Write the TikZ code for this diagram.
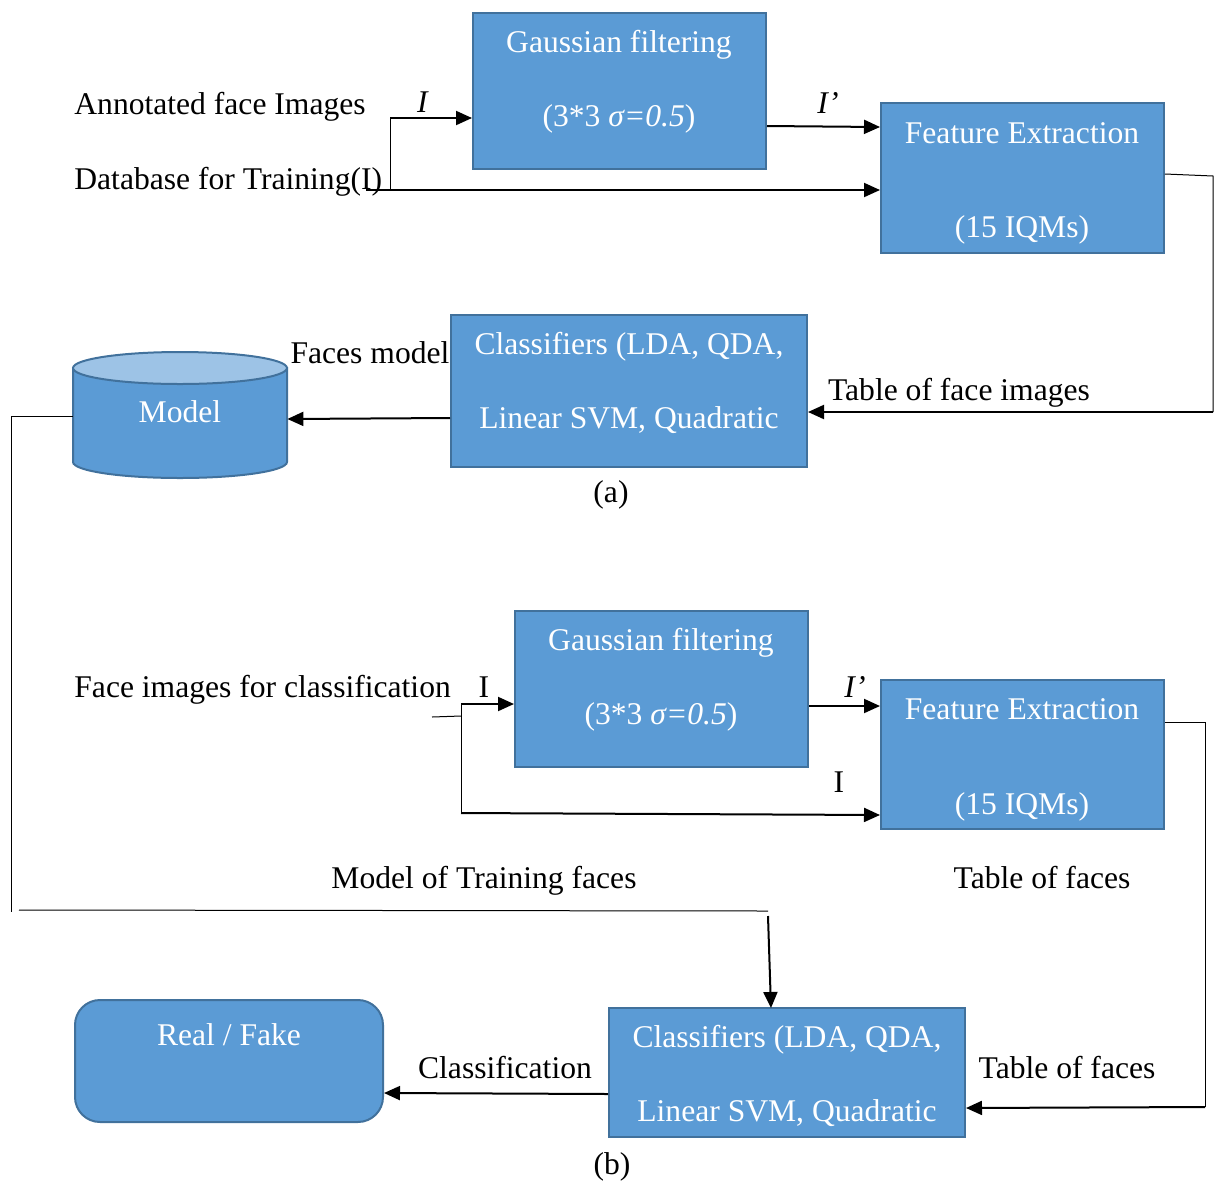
\documentclass[tikz,border=0pt]{standalone}
\usepackage{fontspec}
\setmainfont{Liberation Serif}
\usetikzlibrary{arrows.meta}
\definecolor{boxfill}{HTML}{5B9BD5}
\definecolor{boxline}{HTML}{41719C}
\definecolor{cyltop}{HTML}{9DC3E6}
\newcommand\dfsz{\fontsize{15.8}{19}\selectfont}
\begin{document}
\begin{tikzpicture}[x=0.5pt,y=-0.5pt,
 blk/.style={draw=boxline,line width=1pt,fill=boxfill,inner sep=0pt},
 wtxt/.style={text=white,font=\dfsz,inner sep=0pt,text height=0.9em,text depth=0pt},
 btxt/.style={text=black,font=\dfsz,inner sep=0pt,text height=0.9em,text depth=0pt},
 arr/.style={line width=1pt,-{Triangle[length=8pt,width=7pt]}},
 wire/.style={line width=0.5pt}]
\useasboundingbox (0,0) rectangle (1217,1180);

% ---------- (a) ----------
\node[blk,minimum width=146.5pt,minimum height=78pt] (gf1) at (619.5,91) {};
\node[wtxt] (gf1a) at (619,43) {Gaussian filtering};
\node[wtxt] (gf1b) at (619,117) {(3*3 \textit{σ=0.5})};

\node[blk,minimum width=141.5pt,minimum height=75pt] (fe1) at (1022.5,178) {};
\node[wtxt] (fe1a) at (1022,134) {Feature Extraction};
\node[wtxt] (fe1b) at (1022,228) {(15 IQMs)};

\node[blk,minimum width=178pt,minimum height=76pt] (cl1) at (629,391) {};
\node[wtxt] (cl1a) at (629,345) {Classifiers (LDA, QDA,};
\node[wtxt] (cl1b) at (629,419) {Linear SVM, Quadratic};

% cylinder
\node[minimum width=107pt,minimum height=63pt,inner sep=0pt] (model) at (180,415) {};
\draw[draw=boxline,line width=1pt,fill=boxfill] (73,368) -- (73,462)
  arc[start angle=180,end angle=360,x radius=53.5pt,y radius=8pt] -- (287,368) -- cycle;
\draw[draw=boxline,line width=1pt,fill=cyltop] (180,368) ellipse [x radius=53.5pt,y radius=8pt];
\node[wtxt] (modeltxt) at (180,413) {Model};

\node[btxt,anchor=west] (lab1) at (74,105) {Annotated face Images};
\node[btxt,anchor=west] (lab2) at (74,180) {Database for Training(I)};
\node[btxt] (li1) at (423,103) {\textit{I}};
\node[btxt] (lip1) at (828,104) {\textit{I’}};
\node[btxt] (lfm) at (370,354) {Faces model};
\node[btxt] (ltfi) at (959,391) {Table of face images};
\node[btxt] (la) at (611,493) {(a)};

\coordinate (a1) at (390,118);
\coordinate (a2) at (390,190);
\coordinate (d0) at (366,190);
\draw[wire] (a1) -- (a2);
\draw[arr] (a1) -- (gf1.west |- a1);
\draw[arr] (d0) -- (fe1.west |- d0);
\draw[arr] (gf1.east |- 0,126) -- (fe1.west |- 0,127);
\coordinate (c1) at (1213,176);
\coordinate (c2) at (1213,412);
\draw[wire] (fe1.east |- 0,174) -- (c1) -- (c2);
\draw[arr] (c2) -- (cl1.east |- c2);
\draw[arr] (cl1.west |- 0,418) -- (model.east |- 0,419);

\coordinate (m1) at (11,416);
\coordinate (m2) at (11,912);
\coordinate (m3) at (19,910);
\coordinate (m4) at (768,911);
\draw[wire] (model.west |- m1) -- (m1) -- (m2);
\draw[wire] (m3) -- (m4);

% ---------- (b) ----------
\node[blk,minimum width=146.5pt,minimum height=78pt] (gf2) at (661.5,689) {};
\node[wtxt] (gf2a) at (661,641) {Gaussian filtering};
\node[wtxt] (gf2b) at (661,715) {(3*3 \textit{σ=0.5})};

\node[blk,minimum width=141.5pt,minimum height=74.5pt] (fe2) at (1022.5,754.5) {};
\node[wtxt] (fe2a) at (1022,710) {Feature Extraction};
\node[wtxt] (fe2b) at (1022,805) {(15 IQMs)};

\node[blk,minimum width=178pt,minimum height=64.5pt] (cl2) at (787,1072.5) {};
\node[wtxt] (cl2a) at (787,1038) {Classifiers (LDA, QDA,};
\node[wtxt] (cl2b) at (787,1112) {Linear SVM, Quadratic};

\node[blk,rounded corners=12.5pt,minimum width=154pt,minimum height=61pt] (rf) at (229,1061) {};
\node[wtxt] (rfa) at (229,1036) {Real / Fake};

\node[btxt,anchor=west] (lab3) at (74,688) {Face images for classification};
\node[btxt] (li2) at (484,688) {I};
\node[btxt] (lip2) at (855,688) {\textit{I’}};
\node[btxt] (li3) at (839,783) {I};
\node[btxt] (lmt) at (484,879) {Model of Training faces};
\node[btxt] (ltf1) at (1042,879) {Table of faces};
\node[btxt] (ltf2) at (1067,1069) {Table of faces};
\node[btxt] (lcl) at (505,1069) {Classification};
\node[btxt] (lb) at (612,1165) {(b)};

\coordinate (e0) at (432,717);
\coordinate (e1) at (461,716);
\coordinate (e2) at (461,704);
\coordinate (e3) at (461,813);
\draw[wire] (e0) -- (e1);
\draw[wire] (e2) -- (e3);
\draw[arr] (e2) -- (gf2.west |- e2);
\draw[arr] (e3) -- (fe2.west |- 0,815);
\draw[arr] (gf2.east |- 0,706) -- (fe2.west |- 0,706);
\coordinate (f1) at (1205,722);
\coordinate (f2) at (1205,1107);
\draw[wire] (fe2.east |- f1) -- (f1) -- (f2);
\draw[arr] (f2) -- (cl2.east |- 0,1108);
\draw[arr] (cl2.west |- 0,1094) -- (rf.east |- 0,1093);
\draw[arr] (m4 |- 0,916) -- (771,1008);
\end{tikzpicture}
\end{document}
